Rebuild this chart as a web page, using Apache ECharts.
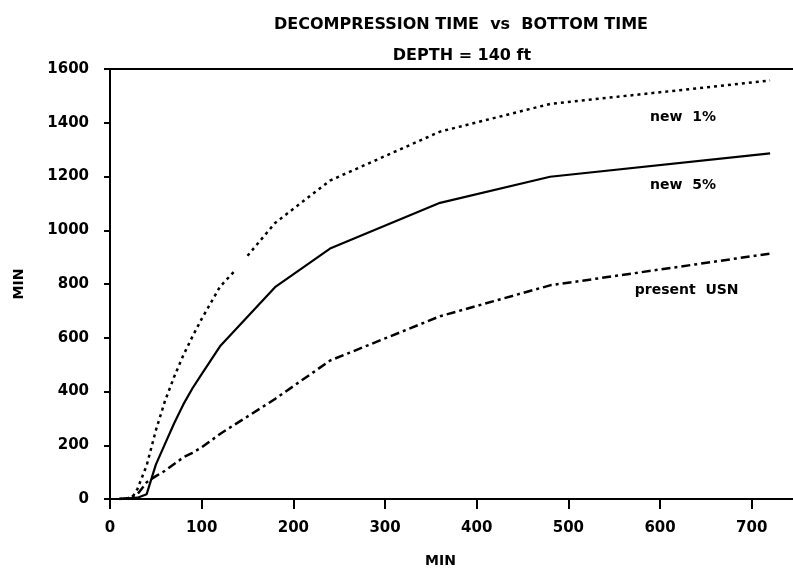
<!DOCTYPE html>
<html>
<head>
<meta charset="utf-8">
<script src="https://cdn.jsdelivr.net/npm/echarts@6/dist/echarts.min.js"></script>
<style>
    html, body { margin: 0; padding: 0; background: #fff; }
    #chart { width: 793px; height: 573px; }
</style>
</head>
<body>
<div id="chart"></div>
<script>
    // data (bottom time in min, decompression time in min)
    var new1Times  = [10, 20, 25, 30, 40, 50, 60, 70, 80, 90, 100, 120, 135, 142, 150, 180, 240, 360, 480, 720];
    var new1Values = [0, 4, 10, 38, 125, 255, 365, 455, 535, 605, 670, 790, 845, null, 905, 1027, 1185, 1367, 1470, 1557];

    var new5Times  = [10, 20, 30, 40, 50, 60, 70, 80, 90, 100, 120, 180, 240, 360, 480, 720];
    var new5Values = [0, 2, 5, 18, 128, 205, 282, 352, 412, 465, 568, 788, 932, 1102, 1199, 1286];

    var usnTimes  = [10, 20, 30, 40, 50, 60, 70, 80, 90, 100, 120, 180, 240, 360, 480, 720];
    var usnValues = [0, 3, 18, 62, 85, 105, 130, 155, 172, 192, 242, 372, 515, 680, 795, 913];

    var labelNames = ['new  1%', 'new  5%', 'present  USN'];

    function pairs(xs, ys) {
        return xs.map(function (x, i) { return [x, ys[i]]; });
    }

    var FONT = 'DejaVu Sans';
    var chart = echarts.init(document.getElementById('chart'));

    // curve name written under the line, like the original plot
    function tag(text, coord) {
        return {
            symbol: 'circle',
            symbolSize: 1,
            silent: true,
            itemStyle: { color: 'rgba(0,0,0,0)' },
            label: {
                show: true,
                position: 'inside',
                formatter: text,
                color: '#000',
                fontFamily: FONT,
                fontWeight: 'bold',
                fontSize: 14
            },
            data: [{ coord: coord }]
        };
    }

    chart.setOption({
        backgroundColor: '#fff',
        animation: false,
        title: [
            {
                text: 'DECOMPRESSION TIME  vs  BOTTOM TIME',
                left: 456, top: 12, textAlign: 'center',
                textStyle: { fontFamily: FONT, fontWeight: 'bold', fontSize: 16, color: '#000' }
            },
            {
                text: 'DEPTH = 140 ft',
                left: 457, top: 43, textAlign: 'center',
                textStyle: { fontFamily: FONT, fontWeight: 'bold', fontSize: 16, color: '#000' }
            }
        ],
        grid: { left: 110, right: 0, top: 69, bottom: 74 },
        xAxis: [
            {
                type: 'value',
                min: 0, max: 745, interval: 100,
                name: 'MIN',
                nameLocation: 'middle',
                nameGap: 55,
                nameTextStyle: { fontFamily: FONT, fontWeight: 'bold', fontSize: 14, color: '#000', padding: [0, 22, 0, 0] },
                axisLine: { lineStyle: { color: '#000', width: 2 } },
                axisTick: { length: 10, lineStyle: { color: '#000', width: 2 } },
                axisLabel: { margin: 22, showMaxLabel: false, fontFamily: FONT, fontWeight: 'bold', fontSize: 15, color: '#000' },
                splitLine: { show: false }
            },
            {
                type: 'value',
                position: 'top',
                min: 0, max: 745,
                axisLine: { show: true, lineStyle: { color: '#000', width: 2 } },
                axisTick: { show: false },
                axisLabel: { show: false },
                splitLine: { show: false }
            }
        ],
        yAxis: {
            type: 'value',
            min: 0, max: 1600, interval: 200,
            name: 'MIN',
            nameLocation: 'middle',
            nameGap: 84,
            nameTextStyle: { fontFamily: FONT, fontWeight: 'bold', fontSize: 14, color: '#000' },
            axisLine: { show: true, lineStyle: { color: '#000', width: 2 } },
            axisTick: { show: true, length: 6, lineStyle: { color: '#000', width: 2 } },
            axisLabel: {
                margin: 21, fontFamily: FONT, fontWeight: 'bold', fontSize: 15, color: '#000',
                formatter: function (v) { return String(v); }
            },
            splitLine: { show: false }
        },
        series: [
            {
                name: 'new 1%',
                type: 'line',
                data: pairs(new1Times, new1Values),
                showSymbol: false,
                connectNulls: false,
                lineStyle: { color: '#000', width: 2.5, type: [3, 4] },
                markPoint: tag(labelNames[0], [625, 1421])
            },
            {
                name: 'new 5%',
                type: 'line',
                data: pairs(new5Times, new5Values),
                showSymbol: false,
                lineStyle: { color: '#000', width: 2.2 },
                markPoint: tag(labelNames[1], [625, 1168])
            },
            {
                name: 'present USN',
                type: 'line',
                data: pairs(usnTimes, usnValues),
                showSymbol: false,
                lineStyle: { color: '#000', width: 2.5, type: [9, 4, 3, 4] },
                markPoint: tag(labelNames[2], [629, 775])
            }
        ]
    });
</script>
</body>
</html>
